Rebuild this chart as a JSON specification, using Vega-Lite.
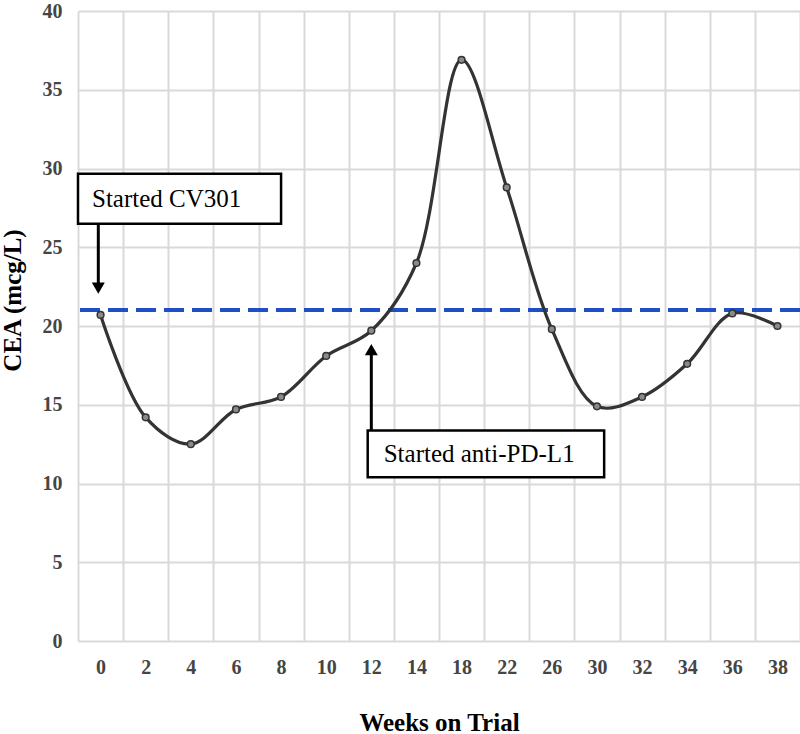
{
  "$schema": "https://vega.github.io/schema/vega-lite/v6.json",
  "width": 722,
  "height": 630,
  "autosize": "none",
  "padding": {"left": 78, "top": 11, "right": 0, "bottom": 93},
  "background": "white",
  "config": {
    "view": {"stroke": null},
    "font": "Liberation Serif",
    "axis": {
      "gridColor": "#d9d9d9",
      "gridWidth": 2,
      "domain": false,
      "ticks": false,
      "labelFont": "Liberation Serif",
      "labelFontSize": 20,
      "labelFontWeight": "bold",
      "labelColor": "#454545",
      "titleFont": "Liberation Serif",
      "titleFontSize": 25,
      "titleFontWeight": "bold",
      "titleColor": "#000000"
    }
  },
  "datasets": {
    "cea": [
      {"week": 0, "cea": 20.7},
      {"week": 2, "cea": 14.2},
      {"week": 4, "cea": 12.5},
      {"week": 6, "cea": 14.7},
      {"week": 8, "cea": 15.5},
      {"week": 10, "cea": 18.1},
      {"week": 12, "cea": 19.7},
      {"week": 14, "cea": 24.0},
      {"week": 18, "cea": 36.9},
      {"week": 22, "cea": 28.8},
      {"week": 26, "cea": 19.8},
      {"week": 30, "cea": 14.9},
      {"week": 32, "cea": 15.5},
      {"week": 34, "cea": 17.6},
      {"week": 36, "cea": 20.8},
      {"week": 38, "cea": 20.0}
    ],
    "notes": [
      {"id": 1, "label": "Started CV301", "xa": 0, "xb": 8, "ytop": 29.66, "ybot": 26.5, "ty": 28.08, "ax": 0, "tail": 26.5, "head": 22.4},
      {"id": 2, "label": "Started anti-PD-L1", "xa": 12, "xb": 30, "ytop": 13.37, "ybot": 10.39, "ty": 11.88, "ax": 12, "tail": 13.37, "head": 18.5}
    ]
  },
  "layer": [
    {
      "data": {"name": "cea"},
      "mark": {"type": "rule", "color": "#1f4fc4", "strokeWidth": 3.5, "strokeDash": [20, 8]},
      "encoding": {
        "y": {
          "datum": 21,
          "type": "quantitative",
          "scale": {"domain": [0, 40]},
          "axis": {
            "title": "CEA (mcg/L)",
            "values": [0, 5, 10, 15, 20, 25, 30, 35, 40],
            "grid": true,
            "labelPadding": 16,
            "titlePadding": 17,
            "titleY": 289
          }
        }
      }
    },
    {
      "data": {"name": "cea"},
      "mark": {"type": "line", "color": "#333333", "strokeWidth": 3.2, "interpolate": "catmull-rom"},
      "encoding": {
        "x": {
          "field": "week",
          "type": "ordinal",
          "scale": {"type": "band", "paddingInner": 0, "paddingOuter": 0},
          "axis": {
            "title": "Weeks on Trial",
            "tickBand": "extent",
            "grid": true,
            "labelAngle": 0,
            "labelPadding": 16,
            "titlePadding": 33
          }
        },
        "y": {"field": "cea", "type": "quantitative", "title": "CEA (mcg/L)"}
      }
    },
    {
      "data": {"name": "cea"},
      "mark": {"type": "circle", "size": 45, "fill": "#8a8a8a", "stroke": "#333333", "strokeWidth": 1.5, "opacity": 1},
      "encoding": {
        "x": {"field": "week", "type": "ordinal"},
        "y": {"field": "cea", "type": "quantitative"}
      }
    },
    {
      "data": {"name": "notes"},
      "transform": [{"filter": "datum.id == 1"}],
      "layer": [
        {
          "mark": {"type": "rect", "fill": "white", "stroke": "black", "strokeWidth": 2.5},
          "encoding": {
            "x": {"field": "xa", "type": "ordinal", "bandPosition": 0},
            "x2": {"field": "xb", "bandPosition": 0.5},
            "y": {"field": "ytop", "type": "quantitative"},
            "y2": {"field": "ybot"}
          }
        },
        {
          "mark": {"type": "text", "align": "left", "baseline": "middle", "dx": 14, "fontSize": 25, "font": "Liberation Serif", "color": "black"},
          "encoding": {
            "x": {"field": "xa", "type": "ordinal", "bandPosition": 0},
            "y": {"field": "ty", "type": "quantitative"},
            "text": {"field": "label"}
          }
        },
        {
          "mark": {"type": "rule", "color": "black", "strokeWidth": 3},
          "encoding": {
            "x": {"field": "ax", "type": "ordinal", "bandPosition": 0.45},
            "y": {"field": "tail", "type": "quantitative"},
            "y2": {"field": "head"}
          }
        },
        {
          "mark": {"type": "point", "shape": "triangle-down", "filled": true, "size": 169, "color": "black", "opacity": 1},
          "encoding": {
            "x": {"field": "ax", "type": "ordinal", "bandPosition": 0.45},
            "y": {"field": "head", "type": "quantitative"}
          }
        }
      ]
    },
    {
      "data": {"name": "notes"},
      "transform": [{"filter": "datum.id == 2"}],
      "layer": [
        {
          "mark": {"type": "rect", "fill": "white", "stroke": "black", "strokeWidth": 2.5},
          "encoding": {
            "x": {"field": "xa", "type": "ordinal", "bandPosition": 0.42},
            "x2": {"field": "xb", "bandPosition": 0.66},
            "y": {"field": "ytop", "type": "quantitative"},
            "y2": {"field": "ybot"}
          }
        },
        {
          "mark": {"type": "text", "align": "left", "baseline": "middle", "dx": 16, "fontSize": 25, "font": "Liberation Serif", "color": "black"},
          "encoding": {
            "x": {"field": "xa", "type": "ordinal", "bandPosition": 0.42},
            "y": {"field": "ty", "type": "quantitative"},
            "text": {"field": "label"}
          }
        },
        {
          "mark": {"type": "rule", "color": "black", "strokeWidth": 3},
          "encoding": {
            "x": {"field": "ax", "type": "ordinal", "bandPosition": 0.5},
            "y": {"field": "tail", "type": "quantitative"},
            "y2": {"field": "head"}
          }
        },
        {
          "mark": {"type": "point", "shape": "triangle-up", "filled": true, "size": 169, "color": "black", "opacity": 1},
          "encoding": {
            "x": {"field": "ax", "type": "ordinal", "bandPosition": 0.5},
            "y": {"field": "head", "type": "quantitative"}
          }
        }
      ]
    }
  ]
}
